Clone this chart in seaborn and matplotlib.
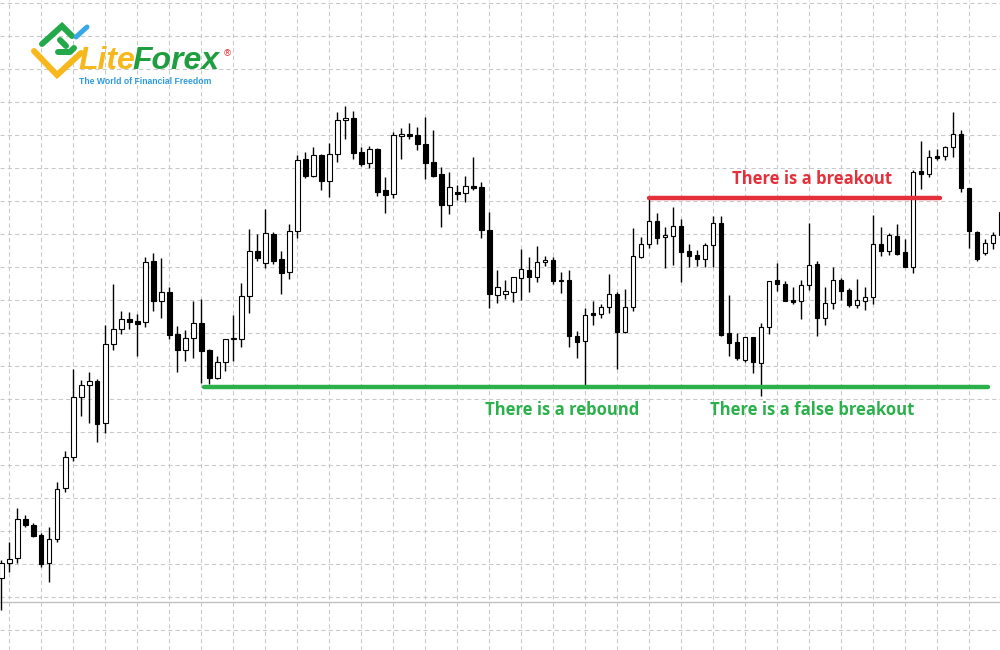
import matplotlib
matplotlib.use("Agg")
import matplotlib.pyplot as plt
import numpy as np
import pandas as pd
import seaborn as sns

# ---- data (price units; larger = higher) ----
opens = [72, 87, 92, 131, 125, 115, 87, 111, 162, 193, 253, 265, 269, 227, 306, 321, 331, 329, 328, 389,
         349, 358, 316, 300, 312, 327, 300, 272, 288, 311, 311, 354, 399, 387, 416, 391, 378, 419, 491, 474,
         495, 469, 496, 530, 532, 498, 487, 501, 460, 456, 514, 516, 515, 506, 488, 476, 445, 458, 457, 464,
         463, 420, 355, 356, 358, 372, 380, 373, 388, 390, 369.5, 370, 314, 309, 337, 336, 343, 356, 318, 343,
         393, 406, 429, 413, 414, 424, 399, 395, 391, 405, 427, 317, 308, 290, 313, 287, 323, 370, 366, 350,
         349, 365, 386, 332, 347, 370, 360, 345, 349, 353, 406, 399, 414, 398, 383, 479, 476, 494, 494, 503,
         516, 462, 418, 397, 407, 415]
highs = [90, 108, 142, 135, 127, 117, 123, 168, 199, 281, 270, 278, 271, 325, 366, 339, 338, 336, 393, 397,
         392, 363, 324, 320, 349, 351, 301, 294, 311, 335, 367, 421, 416, 441, 418, 399, 426, 495, 498, 503,
         496, 507, 538, 544, 539, 503, 504, 502, 473, 518, 522, 527, 523, 533, 520, 483, 478, 465, 474, 493,
         468, 438, 380, 370, 373, 401, 393, 404, 394, 393, 378, 380, 319, 342, 349, 346, 376, 358, 361, 422,
         413, 452, 437, 423, 443, 431, 406, 400, 407, 434, 434, 355, 317, 313, 313, 327, 369, 387, 369, 363,
         370, 427, 389, 363, 383, 372, 362, 371, 363, 435, 423, 417, 426, 411, 480, 509, 500, 501, 504, 538,
         520, 462, 419, 411, 418, 440]
lows = [40, 78, 87, 123, 113, 83, 68, 108, 158, 189, 234, 227, 208, 217, 300, 316, 321, 294, 323, 339,
        332, 311, 278, 289, 292, 267, 266, 271, 279, 289, 303, 337, 389, 382, 386, 356, 371, 412, 472, 473,
        460, 453, 488, 511, 491, 484, 482, 454, 437, 452, 491, 511, 500, 471, 473, 423, 436, 450, 448, 460,
        412, 342, 347, 351, 348, 350, 358, 368, 384, 366, 357, 303, 292, 265, 325, 332, 337, 281, 317, 339,
        392, 402, 406, 382, 385, 368, 383, 384, 383, 383, 314, 294, 290, 288, 277, 254, 316, 359, 349, 346,
        331, 360, 314, 325, 341, 350, 343, 342, 340, 346, 394, 395, 395, 383, 377, 461, 473, 490, 490, 493,
        458, 402, 389, 395, 401, 414]
closes = [87, 91, 131, 125, 114, 86, 111, 161, 193, 253, 265, 269, 226, 306, 321, 331, 328, 326, 388, 349,
          358, 315, 300, 312, 327, 299, 272, 288, 311, 312, 354, 399, 392, 417, 389, 377, 419, 490, 474, 495,
          469, 496, 530, 532, 497, 486, 501, 458, 455, 515, 516, 514, 506, 487, 474, 445, 463, 456, 464, 462,
          420, 356, 363, 359, 373, 381, 373, 388, 390, 369, 370, 314, 308, 335, 335, 343, 356, 318, 343, 394,
          406, 429, 412, 415, 424, 398, 394, 391, 405, 427, 315, 307, 292, 313, 288, 323, 369, 366, 349, 348.5,
          365, 385, 332, 347, 370, 359, 345, 350, 353, 406, 399, 415, 396, 383, 478, 476, 493, 492, 503, 516,
          462, 419, 391, 407, 415, 438]

support_level = 263.0          # green line
support_span = [25.35, 123.35]  # candle index range
resistance_level = 451.7       # red line
resistance_span = [80.95, 117.35]
base_level = 48.5              # thin grey solid line

label_breakout = "There is a breakout"
label_rebound = "There is a rebound"
label_false = "There is a false breakout"
logo_a = "Lite"
logo_b = "Forex"
logo_tag = "The World of Financial Freedom"

GREEN = "#2bb04c"
RED = "#e3303a"

# ---- figure ----
sns.set_style("white")
plt.rcParams["font.family"] = ["Open Sans", "DejaVu Sans"]

fig = plt.figure(figsize=(10, 6.5), dpi=100)
ax = fig.add_axes([0, 0, 1, 1])
ax.set_xlim(-1.3 / 8, (1000 - 1.3) / 8)
ax.set_ylim(0, 650)

# grid
ax.set_xticks(np.arange(1, 125, 4))
ax.set_yticks(647 - 33 * np.arange(0, 20))
ax.grid(True, color="#c8c8c8", linestyle=(0, (4, 3)), linewidth=0.75)
ax.tick_params(length=0, labelbottom=False, labelleft=False)
for s in ax.spines.values():
    s.set_visible(False)
ax.set_axisbelow(True)

ax.axhline(base_level, color="#c0c0c0", lw=1.0, zorder=1)

# candles
n = len(opens)
idx = np.arange(n)
o = np.array(opens, float)
h = np.array(highs, float)
l = np.array(lows, float)
c = np.array(closes, float)
ax.vlines(idx, l, h, color="black", lw=1.0, zorder=2)
bull = c >= o
bottoms = np.minimum(o, c)
heights = np.abs(c - o)
ax.bar(idx[bull], heights[bull], bottom=bottoms[bull], width=0.55,
       color="white", edgecolor="black", linewidth=0.8, zorder=3)
ax.bar(idx[~bull], heights[~bull], bottom=bottoms[~bull], width=0.55,
       color="black", edgecolor="black", linewidth=0.8, zorder=3)

# support / resistance lines through seaborn
lines_df = pd.DataFrame({
    "x": support_span + resistance_span,
    "y": [support_level] * 2 + [resistance_level] * 2,
    "kind": ["support"] * 2 + ["resistance"] * 2,
})
sns.lineplot(data=lines_df, x="x", y="y", hue="kind",
             palette={"support": GREEN, "resistance": RED},
             linewidth=3.2, legend=False, ax=ax, zorder=4, estimator=None)
ax.set_xlabel("")
ax.set_ylabel("")

# annotations
ax.text((812 - 1.3) / 8, 650 - 179, label_breakout, color=RED, fontsize=12,
        fontweight="bold", ha="center", va="center", zorder=5)
ax.text((562 - 1.3) / 8, 650 - 410, label_rebound, color=GREEN, fontsize=12,
        fontweight="bold", ha="center", va="center", zorder=5)
ax.text((812 - 1.3) / 8, 650 - 410, label_false, color=GREEN, fontsize=12,
        fontweight="bold", ha="center", va="center", zorder=5)

# ---- logo overlay (pixel coordinates) ----
lg = fig.add_axes([0, 0, 1, 1], facecolor="none")
lg.set_xlim(0, 1000)
lg.set_ylim(650, 0)
lg.axis("off")
lg.plot([34, 57, 81], [51, 75, 53], color="#f6b81a", lw=4.3, solid_capstyle="round",
        solid_joinstyle="miter")
lg.plot([42, 62, 72], [44, 26, 36], color="#23a84a", lw=4.3, solid_capstyle="round",
        solid_joinstyle="miter")
lg.plot([58, 70, 74], [52, 52, 48], color="#23a84a", lw=4.3, solid_capstyle="round")
lg.plot([60, 66], [40, 46], color="#23a84a", lw=4.3, solid_capstyle="round")
lg.plot([76, 87], [37, 27], color="#3aa7e6", lw=3.6, solid_capstyle="round")

t1 = lg.text(78, 76, logo_a, color="#f6b81a", fontsize=23, fontweight="bold",
             fontstyle="italic", family="Liberation Sans", ha="left", va="bottom")
fig.canvas.draw()
bb = t1.get_window_extent(renderer=fig.canvas.get_renderer())
x_next = bb.x1 - 2  # pixels (figure is 1000 px wide, same as overlay units)
lg.text(x_next, 76, logo_b, color="#1f9e40", fontsize=23, fontweight="bold",
        fontstyle="italic", family="Liberation Sans", ha="left", va="bottom")
lg.text(227, 54, "®", color="#e3303a", fontsize=6.5, family="DejaVu Sans",
        ha="center", va="center")
lg.text(79, 76.5, logo_tag, color="#2d9be0", fontsize=6.2, fontweight="bold",
        family="Liberation Sans", ha="left", va="top")

fig.savefig("out.png", dpi=100)
